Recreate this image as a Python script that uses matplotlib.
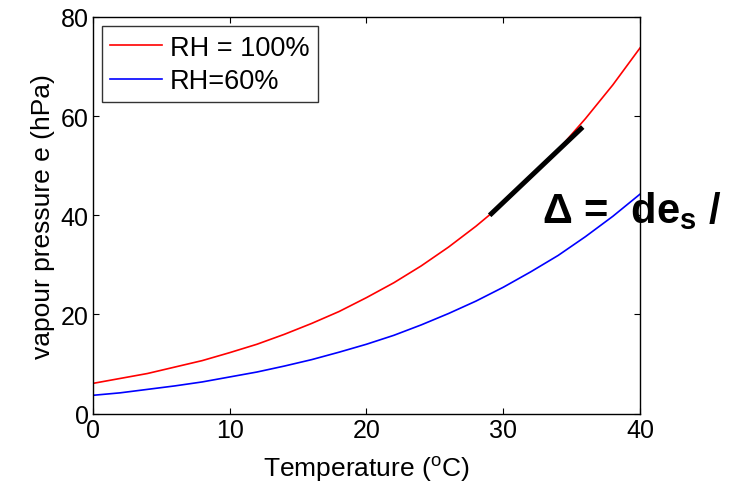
import matplotlib
matplotlib.use('Agg')
import matplotlib.pyplot as plt

plt.rcParams['font.family'] = ['Liberation Sans', 'DejaVu Sans']
plt.rcParams['mathtext.fontset'] = 'custom'
plt.rcParams['mathtext.rm'] = 'Liberation Sans'
plt.rcParams['mathtext.bf'] = 'Liberation Sans:bold'
plt.rcParams['mathtext.it'] = 'Liberation Sans:italic'

# values
temp = [0, 2, 4, 6, 8, 10, 12, 14, 16, 18, 20, 22, 24, 26, 28, 30, 32, 34, 36, 38, 40]
e_rh100 = [6.1, 7.1, 8.1, 9.4, 10.7, 12.3, 14.0, 16.0, 18.2, 20.6, 23.4,
           26.4, 29.8, 33.6, 37.8, 42.4, 47.6, 53.2, 59.5, 66.3, 73.8]
e_rh60 = [3.7, 4.2, 4.9, 5.6, 6.4, 7.4, 8.4, 9.6, 10.9, 12.4, 14.0,
          15.8, 17.9, 20.2, 22.7, 25.5, 28.6, 31.9, 35.7, 39.8, 44.3]
tangent_t = [29.0, 35.8]
tangent_e = [40.0, 57.8]

fig = plt.figure(figsize=(7.3, 4.85), dpi=100)
ax = fig.add_axes([0.127, 0.145, 0.750, 0.818])

ax.plot(temp, e_rh100, color='#ff0000', lw=1.2, label='RH = 100%')
ax.plot(temp, e_rh60, color='#0000ff', lw=1.2, label='RH=60%')
ax.plot(tangent_t, tangent_e, color='black', lw=3.6, solid_capstyle='butt')

ax.set_xlim(0, 40)
ax.set_ylim(0, 80)
ax.set_xticks([0, 10, 20, 30, 40])
ax.set_yticks([0, 20, 40, 60, 80])
ax.tick_params(direction='in', length=4, width=0.8, labelsize=18,
               top=True, right=True, pad=3)
for s in ax.spines.values():
    s.set_linewidth(1.0)

ax.set_xlabel('Temperature ($\\mathregular{^oC}$)', fontsize=19, labelpad=9)
ax.set_ylabel('vapour pressure e (hPa)', fontsize=19, labelpad=4)

leg = ax.legend(loc='upper left', fontsize=19.5, frameon=True, fancybox=False,
                handlelength=1.9, handletextpad=0.3, borderpad=0.3,
                labelspacing=0.28, borderaxespad=0.35)
leg.get_frame().set_edgecolor('black')
leg.get_frame().set_linewidth(1.0)

fig.text(0.742, 0.540, 'Δ =  de$_\\mathregular{s}$ /', fontsize=30,
         fontweight='bold', va='baseline', ha='left', zorder=5)

fig.savefig('out.png', dpi=100)
